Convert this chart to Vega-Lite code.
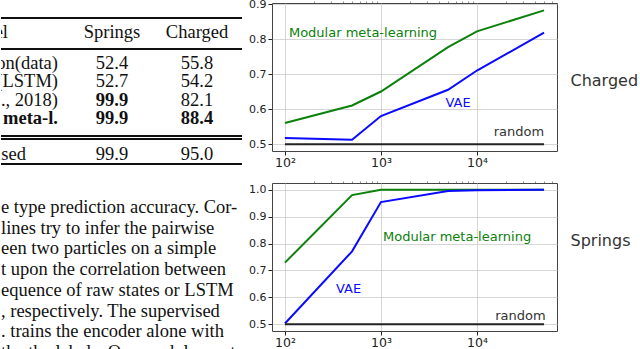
{
  "$schema": "https://vega.github.io/schema/vega-lite/v6.json",
  "padding": {"top": -3, "left": 0, "right": 0, "bottom": 0},
  "background": "white",
  "spacing": 5,
  "config": {
    "view": {"stroke": "#444", "strokeWidth": 1},
    "text": {"font": "DejaVu Sans"}
  },
  "datasets": {
    "table": [
      {"row": 0, "column": "Model", "text": "Model", "best": false},
      {"row": 0, "column": "Springs", "text": "Springs", "best": false},
      {"row": 0, "column": "Charged", "text": "Charged", "best": false},
      {"row": 1, "column": "Model", "text": "Correlation(data)", "best": false},
      {"row": 1, "column": "Springs", "text": "52.4", "best": false},
      {"row": 1, "column": "Charged", "text": "55.8", "best": false},
      {"row": 2, "column": "Model", "text": "Correlation(LSTM)", "best": false},
      {"row": 2, "column": "Springs", "text": "52.7", "best": false},
      {"row": 2, "column": "Charged", "text": "54.2", "best": false},
      {"row": 3, "column": "Model", "text": "NRI (Kipf et al., 2018)", "best": false},
      {"row": 3, "column": "Springs", "text": "99.9", "best": true},
      {"row": 3, "column": "Charged", "text": "82.1", "best": false},
      {"row": 4, "column": "Model", "text": "Modular meta-l.", "best": true},
      {"row": 4, "column": "Springs", "text": "99.9", "best": true},
      {"row": 4, "column": "Charged", "text": "88.4", "best": true},
      {"row": 5, "column": "Model", "text": "Supervised", "best": false},
      {"row": 5, "column": "Springs", "text": "99.9", "best": false},
      {"row": 5, "column": "Charged", "text": "95.0", "best": false}
    ],
    "caption": [
      {"line": 1, "text": "e type prediction accuracy. Cor-"},
      {"line": 2, "text": "lines try to infer the pairwise"},
      {"line": 3, "text": "een two particles on a simple"},
      {"line": 4, "text": "t upon the correlation between"},
      {"line": 5, "text": "equence of raw states or LSTM"},
      {"line": 6, "text": ", respectively.  The supervised"},
      {"line": 7, "text": ". trains the encoder alone with"},
      {"line": 8, "text": "the the labels. Our modular meta-l."}
    ],
    "charged": [
      {"series": "Modular meta-learning", "n": 100, "acc": 0.561},
      {"series": "Modular meta-learning", "n": 500, "acc": 0.611},
      {"series": "Modular meta-learning", "n": 1000, "acc": 0.651},
      {"series": "Modular meta-learning", "n": 5000, "acc": 0.778},
      {"series": "Modular meta-learning", "n": 10000, "acc": 0.823},
      {"series": "Modular meta-learning", "n": 50000, "acc": 0.883},
      {"series": "VAE", "n": 100, "acc": 0.518},
      {"series": "VAE", "n": 500, "acc": 0.513},
      {"series": "VAE", "n": 1000, "acc": 0.581},
      {"series": "VAE", "n": 5000, "acc": 0.656},
      {"series": "VAE", "n": 10000, "acc": 0.711},
      {"series": "VAE", "n": 50000, "acc": 0.819},
      {"series": "random", "n": 100, "acc": 0.5},
      {"series": "random", "n": 500, "acc": 0.5},
      {"series": "random", "n": 1000, "acc": 0.5},
      {"series": "random", "n": 5000, "acc": 0.5},
      {"series": "random", "n": 10000, "acc": 0.5},
      {"series": "random", "n": 50000, "acc": 0.5}
    ],
    "springs": [
      {"series": "Modular meta-learning", "n": 100, "acc": 0.729},
      {"series": "Modular meta-learning", "n": 500, "acc": 0.98},
      {"series": "Modular meta-learning", "n": 1000, "acc": 1.0},
      {"series": "Modular meta-learning", "n": 5000, "acc": 1.0},
      {"series": "Modular meta-learning", "n": 10000, "acc": 1.0},
      {"series": "Modular meta-learning", "n": 50000, "acc": 1.0},
      {"series": "VAE", "n": 100, "acc": 0.503},
      {"series": "VAE", "n": 500, "acc": 0.771},
      {"series": "VAE", "n": 1000, "acc": 0.954},
      {"series": "VAE", "n": 5000, "acc": 0.995},
      {"series": "VAE", "n": 10000, "acc": 0.998},
      {"series": "VAE", "n": 50000, "acc": 1.0},
      {"series": "random", "n": 100, "acc": 0.5},
      {"series": "random", "n": 500, "acc": 0.5},
      {"series": "random", "n": 1000, "acc": 0.5},
      {"series": "random", "n": 5000, "acc": 0.5},
      {"series": "random", "n": 10000, "acc": 0.5},
      {"series": "random", "n": 50000, "acc": 0.5}
    ],
    "chargedLabels": [
      {"series": "Modular meta-learning", "n": 110, "acc": 0.817, "side": "left"},
      {"series": "VAE", "n": 4700, "acc": 0.617, "side": "left"},
      {"series": "random", "n": 50000, "acc": 0.534, "side": "right"}
    ],
    "springsLabels": [
      {"series": "Modular meta-learning", "n": 1050, "acc": 0.823, "side": "left"},
      {"series": "VAE", "n": 340, "acc": 0.631, "side": "left"},
      {"series": "random", "n": 52000, "acc": 0.531, "side": "right"}
    ]
  },
  "hconcat": [
    {
      "bounds": "flush",
      "spacing": 0,
      "vconcat": [
        {
          "width": 241,
          "height": 170,
          "view": {"stroke": null},
          "data": {"name": "table"},
          "encoding": {
            "x": {"field": "column", "type": "nominal", "axis": null,
                  "scale": {"type": "point", "domain": ["Model", "Springs", "Charged"], "range": [26, 196], "padding": 0}},
            "y": {"field": "row", "type": "quantitative", "axis": null,
                  "scale": {"domain": [1, 4], "range": [60, 115], "zero": false, "nice": false}},
            "text": {"field": "text", "type": "nominal"}
          },
          "layer": [
            {"mark": {"type": "rule", "color": "#111", "strokeWidth": 1.3}, "encoding": {"x": null, "text": null, "y": {"datum": -1.44, "type": "quantitative"}}},
            {"mark": {"type": "rule", "color": "#111", "strokeWidth": 0.9}, "encoding": {"x": null, "text": null, "y": {"datum": 0.22, "type": "quantitative"}}},
            {"mark": {"type": "rule", "color": "#111", "strokeWidth": 0.9}, "encoding": {"x": null, "text": null, "y": {"datum": 4.982, "type": "quantitative"}}},
            {"mark": {"type": "rule", "color": "#111", "strokeWidth": 0.9}, "encoding": {"x": null, "text": null, "y": {"datum": 5.145, "type": "quantitative"}}},
            {"mark": {"type": "rule", "color": "#111", "strokeWidth": 1.3}, "encoding": {"x": null, "text": null, "y": {"datum": 6.509, "type": "quantitative"}}},
            {
              "transform": [{"filter": "datum.row == 0 && datum.column != 'Model'"}],
              "mark": {"type": "text", "font": "Liberation Serif", "fontSize": 18.5, "color": "#111", "align": "center", "baseline": "middle", "dy": -13, "clip": true}
            },
            {
              "transform": [{"filter": "datum.row == 0 && datum.column == 'Model'"}],
              "mark": {"type": "text", "font": "Liberation Serif", "fontSize": 18.5, "color": "#111", "align": "right", "baseline": "middle", "dx": -19, "dy": -13, "clip": true}
            },
            {
              "transform": [{"filter": "datum.row >= 1 && datum.row <= 4 && datum.column != 'Model' && !datum.best"}],
              "mark": {"type": "text", "font": "Liberation Serif", "fontSize": 18.5, "color": "#111", "align": "center", "baseline": "middle", "clip": true}
            },
            {
              "transform": [{"filter": "datum.row >= 1 && datum.row <= 4 && datum.column != 'Model' && datum.best"}],
              "mark": {"type": "text", "font": "Liberation Serif", "fontSize": 18.5, "fontWeight": "bold", "color": "#111", "align": "center", "baseline": "middle", "clip": true}
            },
            {
              "transform": [{"filter": "datum.row >= 1 && datum.row <= 4 && datum.column == 'Model' && !datum.best"}],
              "mark": {"type": "text", "font": "Liberation Serif", "fontSize": 18.5, "color": "#111", "align": "right", "baseline": "middle", "dx": 31, "clip": true}
            },
            {
              "transform": [{"filter": "datum.row >= 1 && datum.row <= 4 && datum.column == 'Model' && datum.best"}],
              "mark": {"type": "text", "font": "Liberation Serif", "fontSize": 18.5, "fontWeight": "bold", "color": "#111", "align": "right", "baseline": "middle", "dx": 31, "clip": true}
            },
            {
              "transform": [{"filter": "datum.row == 5 && datum.column != 'Model'"}],
              "mark": {"type": "text", "font": "Liberation Serif", "fontSize": 18.5, "color": "#111", "align": "center", "baseline": "middle", "dy": 18, "clip": true}
            },
            {
              "transform": [{"filter": "datum.row == 5 && datum.column == 'Model'"}],
              "mark": {"type": "text", "font": "Liberation Serif", "fontSize": 18.5, "color": "#111", "align": "right", "baseline": "middle", "dx": -1, "dy": 18, "clip": true}
            }
          ]
        },
        {
          "width": 241,
          "height": 176,
          "view": {"stroke": null},
          "data": {"name": "caption"},
          "mark": {"type": "text", "font": "Liberation Serif", "fontSize": 18.5, "color": "#111", "align": "left", "baseline": "middle", "clip": true},
          "encoding": {
            "x": {"datum": 0, "type": "quantitative", "axis": null, "scale": {"domain": [0, 241], "range": [0, 241]}},
            "y": {"field": "line", "type": "quantitative", "axis": null,
                  "scale": {"domain": [1, 8], "range": [34, 179], "zero": false, "nice": false}},
            "text": {"field": "text", "type": "nominal"}
          }
        }
      ]
    },
    {
      "bounds": "flush",
      "spacing": 32,
      "vconcat": [
        {
          "width": 285,
          "height": 148,
          "resolve": {"axis": {"x": "independent", "y": "independent"}},
          "encoding": {
            "x": {"field": "n", "type": "quantitative",
                  "scale": {"type": "log", "domain": [73.3, 68200], "nice": false}},
            "y": {"field": "acc", "type": "quantitative",
                  "scale": {"domain": [0.481, 0.904], "zero": false, "nice": false}},
            "color": {"field": "series", "type": "nominal", "legend": null,
                      "scale": {"domain": ["Modular meta-learning", "VAE", "random"], "range": ["#0b800b", "#0a0aff", "#222222"]}}
          },
          "layer": [
            {
              "data": {"name": "charged"},
              "mark": {"type": "line", "strokeWidth": 2},
              "encoding": {
                "x": {"field": "n", "type": "quantitative",
                      "axis": {"values": [100, 1000, 10000], "labelExpr": "datum.value == 100 ? '10²' : datum.value == 1000 ? '10³' : '10⁴'",
                               "title": null, "grid": true, "gridColor": "#cccccc", "gridWidth": 0.8, "domain": false,
                               "tickSize": 4, "tickColor": "#222", "labelFont": "DejaVu Sans", "labelFontSize": 12.5, "labelColor": "#222", "labelPadding": 1}},
                "y": {"field": "acc", "type": "quantitative",
                      "axis": {"values": [0.5, 0.6, 0.7, 0.8, 0.9], "format": ".1f", "title": null, "grid": true, "gridColor": "#cccccc", "gridWidth": 0.8,
                               "domain": false, "tickSize": 4, "tickColor": "#222", "labelFont": "DejaVu Sans", "labelFontSize": 11, "labelColor": "#222", "labelPadding": 2}}
              }
            },
            {
              "data": {"name": "chargedLabels"},
              "transform": [{"filter": "datum.side == 'left'"}],
              "mark": {"type": "text", "align": "left", "baseline": "middle", "fontSize": 13, "font": "DejaVu Sans"},
              "encoding": {
                "text": {"field": "series", "type": "nominal"},
                "x": {"field": "n", "type": "quantitative",
                      "axis": {"values": [200, 300, 400, 500, 600, 700, 800, 900, 2000, 3000, 4000, 5000, 6000, 7000, 8000, 9000, 20000, 30000, 40000, 50000, 60000],
                               "labels": false, "grid": false, "domain": false, "title": null, "tickSize": 2, "tickColor": "#444", "tickWidth": 0.6}},
                "y": {"field": "acc", "type": "quantitative",
                      "axis": {"orient": "right", "title": "Charged", "labels": false, "ticks": false, "domain": false, "grid": false,
                               "titleAngle": 0, "titleAlign": "left", "titleBaseline": "middle", "titlePadding": 13, "titleY": 77,
                               "titleFont": "DejaVu Sans", "titleFontSize": 16, "titleFontWeight": "normal", "titleColor": "#333"}}
              }
            },
            {
              "data": {"name": "chargedLabels"},
              "transform": [{"filter": "datum.side == 'right'"}],
              "mark": {"type": "text", "align": "right", "baseline": "middle", "fontSize": 13, "font": "DejaVu Sans", "color": "#333"},
              "encoding": {
                "text": {"field": "series", "type": "nominal"},
                "color": null,
                "x": {"field": "n", "type": "quantitative", "axis": null},
                "y": {"field": "acc", "type": "quantitative", "axis": null}
              }
            }
          ]
        },
        {
          "width": 285,
          "height": 148,
          "resolve": {"axis": {"x": "independent", "y": "independent"}},
          "encoding": {
            "x": {"field": "n", "type": "quantitative",
                  "scale": {"type": "log", "domain": [73.3, 68200], "nice": false}},
            "y": {"field": "acc", "type": "quantitative",
                  "scale": {"domain": [0.475, 1.025], "zero": false, "nice": false}},
            "color": {"field": "series", "type": "nominal", "legend": null,
                      "scale": {"domain": ["Modular meta-learning", "VAE", "random"], "range": ["#0b800b", "#0a0aff", "#222222"]}}
          },
          "layer": [
            {
              "data": {"name": "springs"},
              "mark": {"type": "line", "strokeWidth": 2},
              "encoding": {
                "x": {"field": "n", "type": "quantitative",
                      "axis": {"values": [100, 1000, 10000], "labelExpr": "datum.value == 100 ? '10²' : datum.value == 1000 ? '10³' : '10⁴'",
                               "title": null, "grid": true, "gridColor": "#cccccc", "gridWidth": 0.8, "domain": false,
                               "tickSize": 4, "tickColor": "#222", "labelFont": "DejaVu Sans", "labelFontSize": 12.5, "labelColor": "#222", "labelPadding": 1}},
                "y": {"field": "acc", "type": "quantitative",
                      "axis": {"values": [0.5, 0.6, 0.7, 0.8, 0.9, 1.0], "format": ".1f", "title": null, "grid": true, "gridColor": "#cccccc", "gridWidth": 0.8,
                               "domain": false, "tickSize": 4, "tickColor": "#222", "labelFont": "DejaVu Sans", "labelFontSize": 11, "labelColor": "#222", "labelPadding": 2}}
              }
            },
            {
              "data": {"name": "springsLabels"},
              "transform": [{"filter": "datum.side == 'left'"}],
              "mark": {"type": "text", "align": "left", "baseline": "middle", "fontSize": 13, "font": "DejaVu Sans"},
              "encoding": {
                "text": {"field": "series", "type": "nominal"},
                "x": {"field": "n", "type": "quantitative",
                      "axis": {"values": [200, 300, 400, 500, 600, 700, 800, 900, 2000, 3000, 4000, 5000, 6000, 7000, 8000, 9000, 20000, 30000, 40000, 50000, 60000],
                               "labels": false, "grid": false, "domain": false, "title": null, "tickSize": 2, "tickColor": "#444", "tickWidth": 0.6}},
                "y": {"field": "acc", "type": "quantitative",
                      "axis": {"orient": "right", "title": "Springs", "labels": false, "ticks": false, "domain": false, "grid": false,
                               "titleAngle": 0, "titleAlign": "left", "titleBaseline": "middle", "titlePadding": 13, "titleY": 57,
                               "titleFont": "DejaVu Sans", "titleFontSize": 16, "titleFontWeight": "normal", "titleColor": "#333"}}
              }
            },
            {
              "data": {"name": "springsLabels"},
              "transform": [{"filter": "datum.side == 'right'"}],
              "mark": {"type": "text", "align": "right", "baseline": "middle", "fontSize": 13, "font": "DejaVu Sans", "color": "#333"},
              "encoding": {
                "text": {"field": "series", "type": "nominal"},
                "color": null,
                "x": {"field": "n", "type": "quantitative", "axis": null},
                "y": {"field": "acc", "type": "quantitative", "axis": null}
              }
            }
          ]
        }
      ]
    }
  ]
}
